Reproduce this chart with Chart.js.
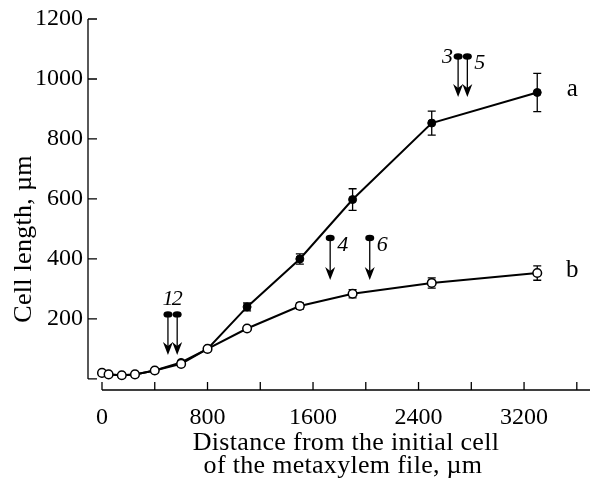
<!DOCTYPE html>
<html>
<head>
<meta charset="utf-8">
<script src="https://cdn.jsdelivr.net/npm/chart.js@4.4.1/dist/chart.umd.min.js"></script>
<style>
  html, body { margin: 0; padding: 0; background: #fff; }
  #wrap { width: 598px; height: 483px; }
</style>
</head>
<body>
<div id="wrap"><canvas id="cellChart" width="598" height="483"></canvas></div>
<script>
// --- data ---
const distance = [0, 50, 150, 250, 400, 600, 800, 1100, 1500, 1900, 2500, 3300];
const lengthA  = [20, 15, 12, 15, 28, 55, 100, 240, 400, 598, 853, 955];
const lengthB  = [20, 15, 12, 15, 28, 50, 100, 168, 243, 284, 320, 353];
const errA     = [0, 0, 0, 0, 0, 0, 0, 13, 17, 36, 40, 64];
const errB     = [0, 0, 0, 0, 0, 0, 0, 0, 10, 14, 17, 24];

const xTicks = [0, 400, 800, 1200, 1600, 2000, 2400, 2800, 3200, 3600];
const xLabelled = [0, 800, 1600, 2400, 3200];
const yTicks = [0, 200, 400, 600, 800, 1000, 1200];

// arrows marking cell positions 1..6
const arrowNames = ['1', '2', '3', '4', '5', '6'];
const arrowX     = [500, 570, 2700, 1730, 2770, 2030];
const arrowTop   = [215, 215, 1075, 470, 1075, 470];
const arrowTip   = [80, 80, 940, 330, 940, 330];
const arrowSide  = ['top', 'top', 'left', 'right', 'right', 'right'];

const FONT = '"Liberation Serif", "DejaVu Serif", serif';

const figurePlugin = {
    id: 'figure',
    beforeDatasetsDraw(chart) {
        const { ctx, scales: { x, y } } = chart;
        ctx.save();
        ctx.strokeStyle = '#000';
        ctx.lineWidth = 1.3;
        const bars = [[lengthA, errA], [lengthB, errB]];
        bars.forEach(([vals, errs]) => {
            distance.forEach((d, i) => {
                if (!errs[i]) return;
                const px = x.getPixelForValue(d);
                const y1 = y.getPixelForValue(vals[i] + errs[i]);
                const y2 = y.getPixelForValue(vals[i] - errs[i]);
                ctx.beginPath();
                ctx.moveTo(px, y1); ctx.lineTo(px, y2);
                ctx.moveTo(px - 4, y1); ctx.lineTo(px + 4, y1);
                ctx.moveTo(px - 4, y2); ctx.lineTo(px + 4, y2);
                ctx.stroke();
            });
        });
        ctx.restore();
    },
    afterDraw(chart) {
        const { ctx, chartArea, scales: { x, y } } = chart;
        ctx.save();
        ctx.strokeStyle = '#000';
        ctx.fillStyle = '#000';
        ctx.lineWidth = 1.3;

        // y axis, offset to the left, ticks pointing inward
        const yAxisX = x.left - 14;
        ctx.beginPath();
        ctx.moveTo(yAxisX, y.getPixelForValue(1200));
        ctx.lineTo(yAxisX, y.getPixelForValue(0));
        yTicks.forEach(v => {
            const py = y.getPixelForValue(v);
            ctx.moveTo(yAxisX, py); ctx.lineTo(yAxisX + 9, py);
        });
        ctx.stroke();

        // x axis, offset below, ticks pointing up
        const xAxisY = chartArea.bottom;
        ctx.beginPath();
        ctx.moveTo(x.getPixelForValue(0), xAxisY);
        ctx.lineTo(chartArea.right, xAxisY);
        xTicks.forEach(v => {
            const px = x.getPixelForValue(v);
            ctx.moveTo(px, xAxisY); ctx.lineTo(px, xAxisY - 8);
        });
        ctx.stroke();

        // arrows
        arrowX.forEach((d, i) => {
            const px = x.getPixelForValue(d);
            const top = y.getPixelForValue(arrowTop[i]);
            const tip = y.getPixelForValue(arrowTip[i]);
            ctx.beginPath();
            ctx.moveTo(px, top); ctx.lineTo(px, tip - 8);
            ctx.stroke();
            ctx.beginPath();
            ctx.ellipse(px, top, 4.5, 3.2, 0, 0, Math.PI * 2);
            ctx.fill();
            ctx.beginPath();
            ctx.moveTo(px, tip);
            ctx.lineTo(px - 5, tip - 13);
            ctx.lineTo(px, tip - 9);
            ctx.lineTo(px + 5, tip - 13);
            ctx.closePath();
            ctx.fill();

            ctx.font = 'italic 22px ' + FONT;
            ctx.textBaseline = 'middle';
            let tx = px, ty = top;
            if (arrowSide[i] === 'top') { ctx.textAlign = 'center'; ty = top - 15; }
            else if (arrowSide[i] === 'left') { ctx.textAlign = 'right'; tx = px - 5; ty = top + 1; }
            else { ctx.textAlign = 'left'; tx = px + 7; ty = top + 7; }
            ctx.fillText(arrowNames[i], tx, ty);
        });

        // series labels next to last points
        ctx.font = '25px ' + FONT;
        ctx.textAlign = 'center';
        ctx.textBaseline = 'middle';
        const last = distance.length - 1;
        ctx.fillText('a', x.getPixelForValue(distance[last]) + 35, y.getPixelForValue(lengthA[last]) - 3);
        ctx.fillText('b', x.getPixelForValue(distance[last]) + 35, y.getPixelForValue(lengthB[last]) - 3);

        // axis titles
        ctx.font = '26px ' + FONT;
        ctx.letterSpacing = '0.3px';
        ctx.textBaseline = 'alphabetic';
        const midX = (chartArea.left + chartArea.right) / 2;
        ctx.fillText('Distance from the initial cell', midX, 450);
        ctx.fillText('of the metaxylem file, \u00b5m', midX - 3, 473);
        ctx.save();
        ctx.translate(31, 239);
        ctx.rotate(-Math.PI / 2);
        ctx.fillText('Cell length, \u00b5m', 0, 0);
        ctx.restore();

        ctx.restore();
    }
};

document.addEventListener('DOMContentLoaded', () => {
    const ctx = document.getElementById('cellChart').getContext('2d');
    new Chart(ctx, {
        type: 'line',
        data: {
            labels: distance,
            datasets: [
                {
                    label: 'b',
                    data: distance.map((d, i) => ({ x: d, y: lengthB[i] })),
                    borderColor: '#000',
                    borderWidth: 2,
                    pointRadius: 4.3,
                    pointBackgroundColor: '#fff',
                    pointBorderColor: '#000',
                    pointBorderWidth: 1.5,
                    tension: 0,
                    clip: false
                },
                {
                    label: 'a',
                    data: distance.map((d, i) => ({ x: d, y: lengthA[i] })),
                    borderColor: '#000',
                    borderWidth: 2,
                    pointRadius: 4,
                    pointBackgroundColor: '#000',
                    pointBorderColor: '#000',
                    pointBorderWidth: 1,
                    tension: 0,
                    clip: false
                }
            ]
        },
        options: {
            responsive: false,
            animation: false,
            layout: { padding: { top: 19, right: 8, left: 0, bottom: 0 } },
            plugins: {
                legend: { display: false },
                tooltip: { enabled: false }
            },
            scales: {
                x: {
                    type: 'linear',
                    min: 0,
                    max: 3700,
                    grid: { display: false },
                    border: { display: false },
                    afterBuildTicks: s => { s.ticks = xTicks.map(v => ({ value: v })); },
                    afterFit: s => { s.height = 93; s.paddingLeft = 0; s.paddingRight = 0; },
                    ticks: {
                        padding: 5,
                        maxRotation: 0,
                        autoSkip: false,
                        color: '#000',
                        font: { family: FONT, size: 24 },
                        callback: v => xLabelled.includes(v) ? String(v) : ''
                    }
                },
                y: {
                    min: -37,
                    max: 1200,
                    grid: { display: false },
                    border: { display: false },
                    afterBuildTicks: s => { s.ticks = yTicks.map(v => ({ value: v })); },
                    afterFit: s => { s.width = 102; s.paddingTop = 0; s.paddingBottom = 0; },
                    ticks: {
                        padding: 11,
                        color: '#000',
                        font: { family: FONT, size: 24 },
                        callback: v => v === 0 ? '' : String(v)
                    }
                }
            }
        },
        plugins: [figurePlugin]
    });
});
</script>
</body>
</html>
